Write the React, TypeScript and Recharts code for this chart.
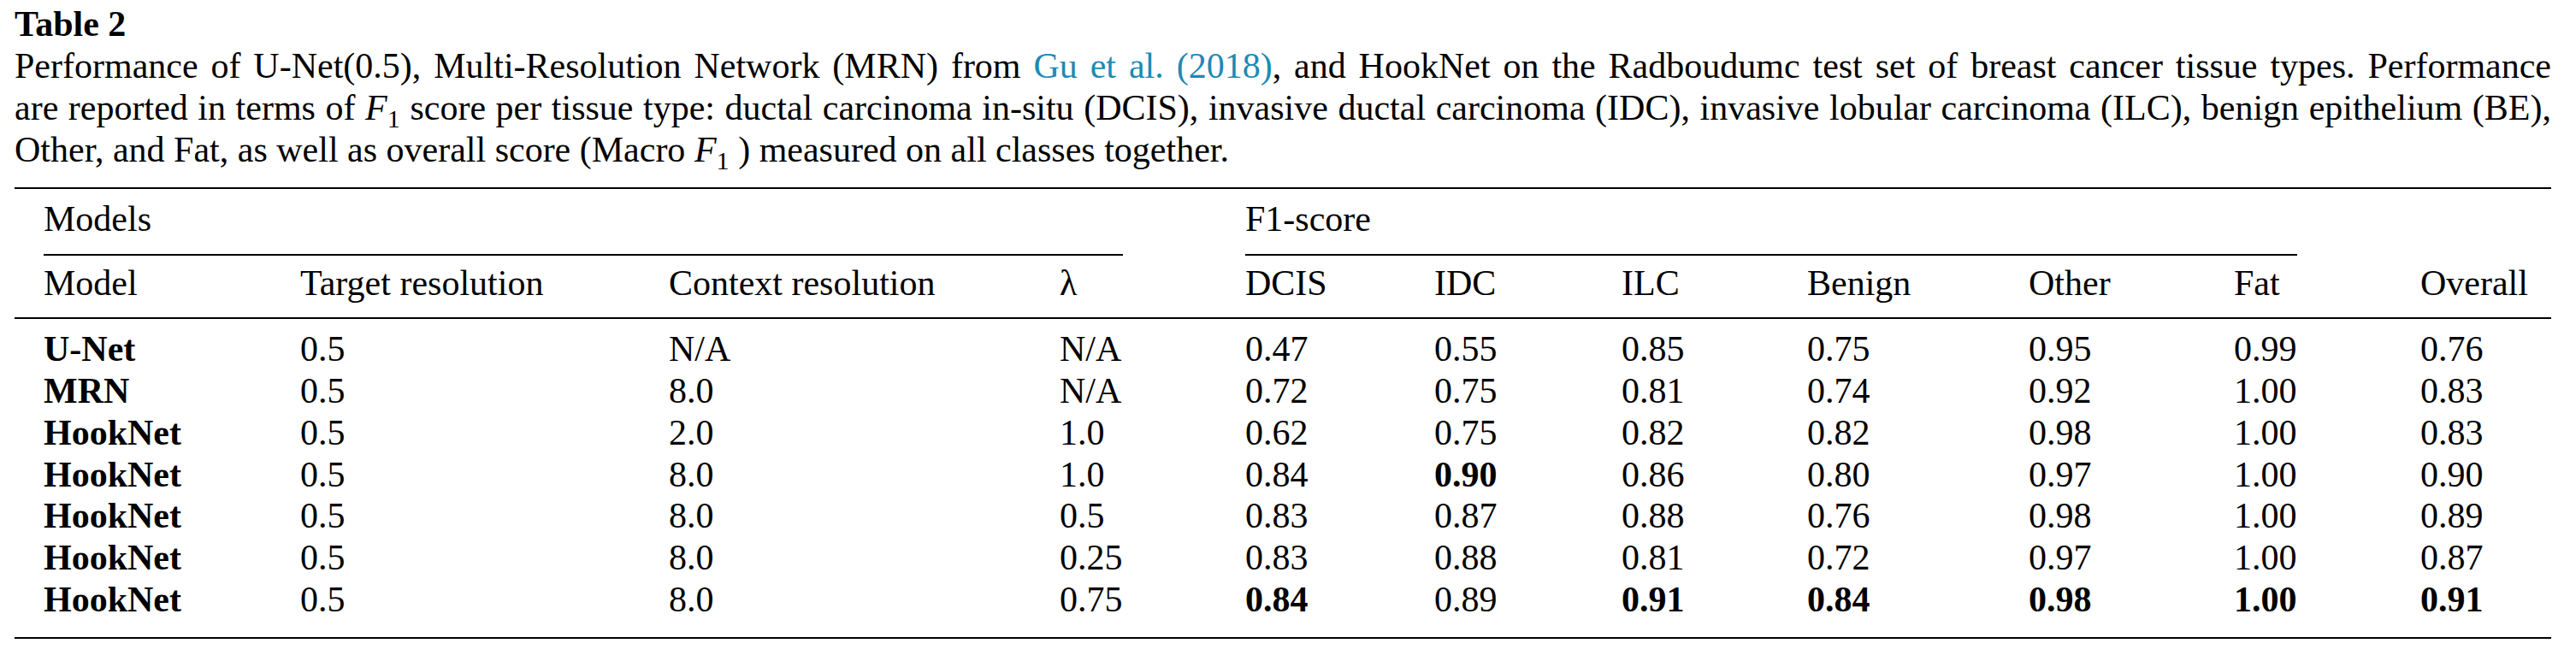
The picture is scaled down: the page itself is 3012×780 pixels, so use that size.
import { ScatterChart, Scatter, XAxis, YAxis, Customized } from 'recharts';

// table body, one array per column
const models = ['U-Net', 'MRN', 'HookNet', 'HookNet', 'HookNet', 'HookNet', 'HookNet'];
const targetResolution = ['0.5', '0.5', '0.5', '0.5', '0.5', '0.5', '0.5'];
const contextResolution = ['N/A', '8.0', '2.0', '8.0', '8.0', '8.0', '8.0'];
const lambdas = ['N/A', 'N/A', '1.0', '1.0', '0.5', '0.25', '0.75'];
const dcis = [0.47, 0.72, 0.62, 0.84, 0.83, 0.83, 0.84];
const idc = [0.55, 0.75, 0.75, 0.9, 0.87, 0.88, 0.89];
const ilc = [0.85, 0.81, 0.82, 0.86, 0.88, 0.81, 0.91];
const benign = [0.75, 0.74, 0.82, 0.8, 0.76, 0.72, 0.84];
const other = [0.95, 0.92, 0.98, 0.97, 0.98, 0.97, 0.98];
const fat = [0.99, 1.0, 1.0, 1.0, 1.0, 1.0, 1.0];
const overall = [0.76, 0.83, 0.83, 0.9, 0.89, 0.87, 0.91];

const headers = ['Model', 'Target resolution', 'Context resolution', 'λ', 'DCIS', 'IDC', 'ILC', 'Benign', 'Other', 'Fat', 'Overall'];

// bold cells: [column index, row index]
const boldCells = [[5, 3], [4, 6], [6, 6], [7, 6], [8, 6], [9, 6], [10, 6]];

const columns: (string | number)[][] = [
  models, targetResolution, contextResolution, lambdas,
  dcis, idc, ilc, benign, other, fat, overall,
];

// layout
const W = 3012;
const H = 780;
const LEFT = 17;
const RIGHT = 2983;
const COL_X = [51, 351, 782, 1239, 1456, 1677, 1896, 2113, 2372, 2612, 2830];
const FIRST_ROW = 422;
const LAST_ROW = 715;
const FONT = '"Liberation Serif", "Times New Roman", serif';
const FS = 42;
const LINK = '#1d8ab6';

const series = columns.map((col, c) =>
  col.map((v, r) => ({
    x: COL_X[c],
    row: r,
    label: typeof v === 'number' ? v.toFixed(2) : v,
    bold: c === 0 || boldCells.some(([bc, br]) => bc === c && br === r),
  }))
);

function CellText(props: any) {
  const { cx, cy, payload } = props;
  return (
    <text x={cx} y={cy} fontFamily={FONT} fontSize={FS} fontWeight={payload.bold ? 700 : 400} fill="#000">
      {payload.label}
    </text>
  );
}

function TableFrame() {
  const rule = (x1: number, x2: number, y: number, key: string) => (
    <line key={key} x1={x1} x2={x2} y1={y} y2={y} stroke="#000" strokeWidth={2.2} />
  );
  return (
    <g fontFamily={FONT} fontSize={FS} fill="#000">
      {rule(LEFT, RIGHT, 220, 'top')}
      {rule(51, 1313, 298, 'subL')}
      {rule(1456, 2686, 298, 'subR')}
      {rule(LEFT, RIGHT, 372, 'head')}
      {rule(LEFT, RIGHT, 746, 'bottom')}
      <text x={51} y={270}>Models</text>
      <text x={1456} y={270}>F1-score</text>
      {headers.map((h, i) => (
        <text key={h} x={COL_X[i]} y={345}>{h}</text>
      ))}
    </g>
  );
}

// italic F with subscript 1, kept out of the line box height
const F1 = () => (
  <>
    <i>F</i>
    <span style={{ fontSize: '0.72em', position: 'relative', top: '0.3em', lineHeight: 0 }}>1</span>
  </>
);

export default function App() {
  const lineStyle = { whiteSpace: 'nowrap' as const, textAlign: 'justify' as const, textAlignLast: 'justify' as const, height: 49 };
  return (
    <div style={{ position: 'absolute', left: 0, top: 0, width: W, height: H, background: '#fff', overflow: 'hidden' }}>
      <div style={{ position: 'absolute', left: 0, top: 0 }}>
        <ScatterChart width={W} height={H} margin={{ top: FIRST_ROW, right: 0, bottom: H - LAST_ROW, left: 0 }}>
          <XAxis type="number" dataKey="x" domain={[0, W]} hide />
          <YAxis type="number" dataKey="row" domain={[0, 6]} reversed hide />
          <Customized component={<TableFrame />} />
          {series.map((s, i) => (
            <Scatter key={headers[i]} name={headers[i]} data={s} shape={CellText} isAnimationActive={false} />
          ))}
        </ScatterChart>
      </div>
      <div
        style={{
          position: 'absolute', left: LEFT, top: 4, width: RIGHT - LEFT,
          fontFamily: FONT, fontSize: FS, lineHeight: '49px', color: '#000',
        }}
      >
        <div style={{ fontWeight: 700, height: 49 }}>Table 2</div>
        <div style={lineStyle}>
          Performance of U-Net(0.5), Multi-Resolution Network (MRN) from{' '}
          <span style={{ color: LINK }}>Gu et al. (2018)</span>, and HookNet on the Radboudumc test set of breast cancer tissue types. Performance
        </div>
        <div style={lineStyle}>
          are reported in terms of <F1 /> score per tissue type: ductal carcinoma in-situ (DCIS), invasive ductal carcinoma (IDC), invasive lobular carcinoma (ILC), benign epithelium (BE),
        </div>
        <div style={{ whiteSpace: 'nowrap', height: 49 }}>
          Other, and Fat, as well as overall score (Macro <F1 /> ) measured on all classes together.
        </div>
      </div>
    </div>
  );
}
